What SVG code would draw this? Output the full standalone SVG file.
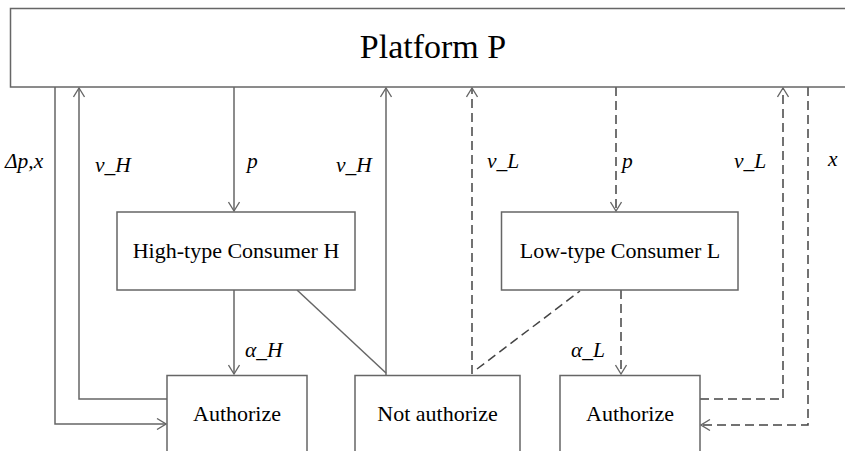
<svg xmlns="http://www.w3.org/2000/svg" width="845" height="451" viewBox="0 0 845 451">
<style>
.box{fill:#fff;stroke:#666;stroke-width:1.5}
.ln{fill:none;stroke:#666;stroke-width:1.5}
.d{stroke-dasharray:9,5;stroke:#444}
text{font-family:'Liberation Serif','Times New Roman',serif;fill:#000}
.t{text-anchor:middle;font-size:22px}
.big{font-size:34px}
.lb{font-style:italic;font-size:21.5px}
</style>
<defs>
<marker id="a" viewBox="-10 -6 11 12" refX="0" refY="0" markerWidth="11" markerHeight="12" markerUnits="userSpaceOnUse" orient="auto">
<path d="M-9,-5.5 L0,0 L-9,5.5" fill="none" stroke="#666" stroke-width="1.3"/>
</marker>
</defs>
<g id="connectors">
<path class="ln" d="M55,87 V424 H166" marker-end="url(#a)"/>
<path class="ln" d="M167,399 H79 V88" marker-end="url(#a)"/>
<path class="ln" d="M234,87 V211" marker-end="url(#a)"/>
<path class="ln" d="M234,290 V374" marker-end="url(#a)"/>
<path class="ln" d="M297,290 L386,373"/>
<path class="ln" d="M386,375 V88" marker-end="url(#a)"/>
<path class="ln d" d="M472,374 V88" marker-end="url(#a)"/>
<path class="ln d" d="M477,369 L580,291"/>
<path class="ln d" d="M616,87 V211" marker-end="url(#a)"/>
<path class="ln d" d="M621,290 V374" marker-end="url(#a)"/>
<path class="ln d" d="M700,399 H783 V88" marker-end="url(#a)"/>
<path class="ln d" d="M808,87 V425 H701" marker-end="url(#a)"/>
</g>
<g id="platform">
<rect class="box" x="10.5" y="8.5" width="845" height="78.5"/>
<text class="t big" x="433" y="58">Platform P</text>
</g>
<g id="consumerH">
<rect class="box" x="117" y="212" width="238" height="78"/>
<text class="t" x="236" y="258">High-type Consumer H</text>
</g>
<g id="consumerL">
<rect class="box" x="501.5" y="212" width="236.5" height="78"/>
<text class="t" x="620" y="258">Low-type Consumer L</text>
</g>
<g id="authorizeH">
<rect class="box" x="167" y="375.5" width="140" height="90"/>
<text class="t" x="237" y="421">Authorize</text>
</g>
<g id="notAuthorize">
<rect class="box" x="355" y="375.5" width="165" height="90"/>
<text class="t" x="437.5" y="421">Not authorize</text>
</g>
<g id="authorizeL">
<rect class="box" x="560" y="375.5" width="140" height="90"/>
<text class="t" x="630" y="421">Authorize</text>
</g>
<g id="labels">
<text class="lb" x="5" y="168">Δp,x</text>
<text class="lb" x="95" y="172">v_H</text>
<text class="lb" x="247" y="168">p</text>
<text class="lb" x="336" y="172">v_H</text>
<text class="lb" x="487" y="168">v_L</text>
<text class="lb" x="622" y="168">p</text>
<text class="lb" x="734" y="168">v_L</text>
<text class="lb" x="828" y="166">x</text>
<text class="lb" x="245" y="357">α_H</text>
<text class="lb" x="571" y="357">α_L</text>
</g>
</svg>
